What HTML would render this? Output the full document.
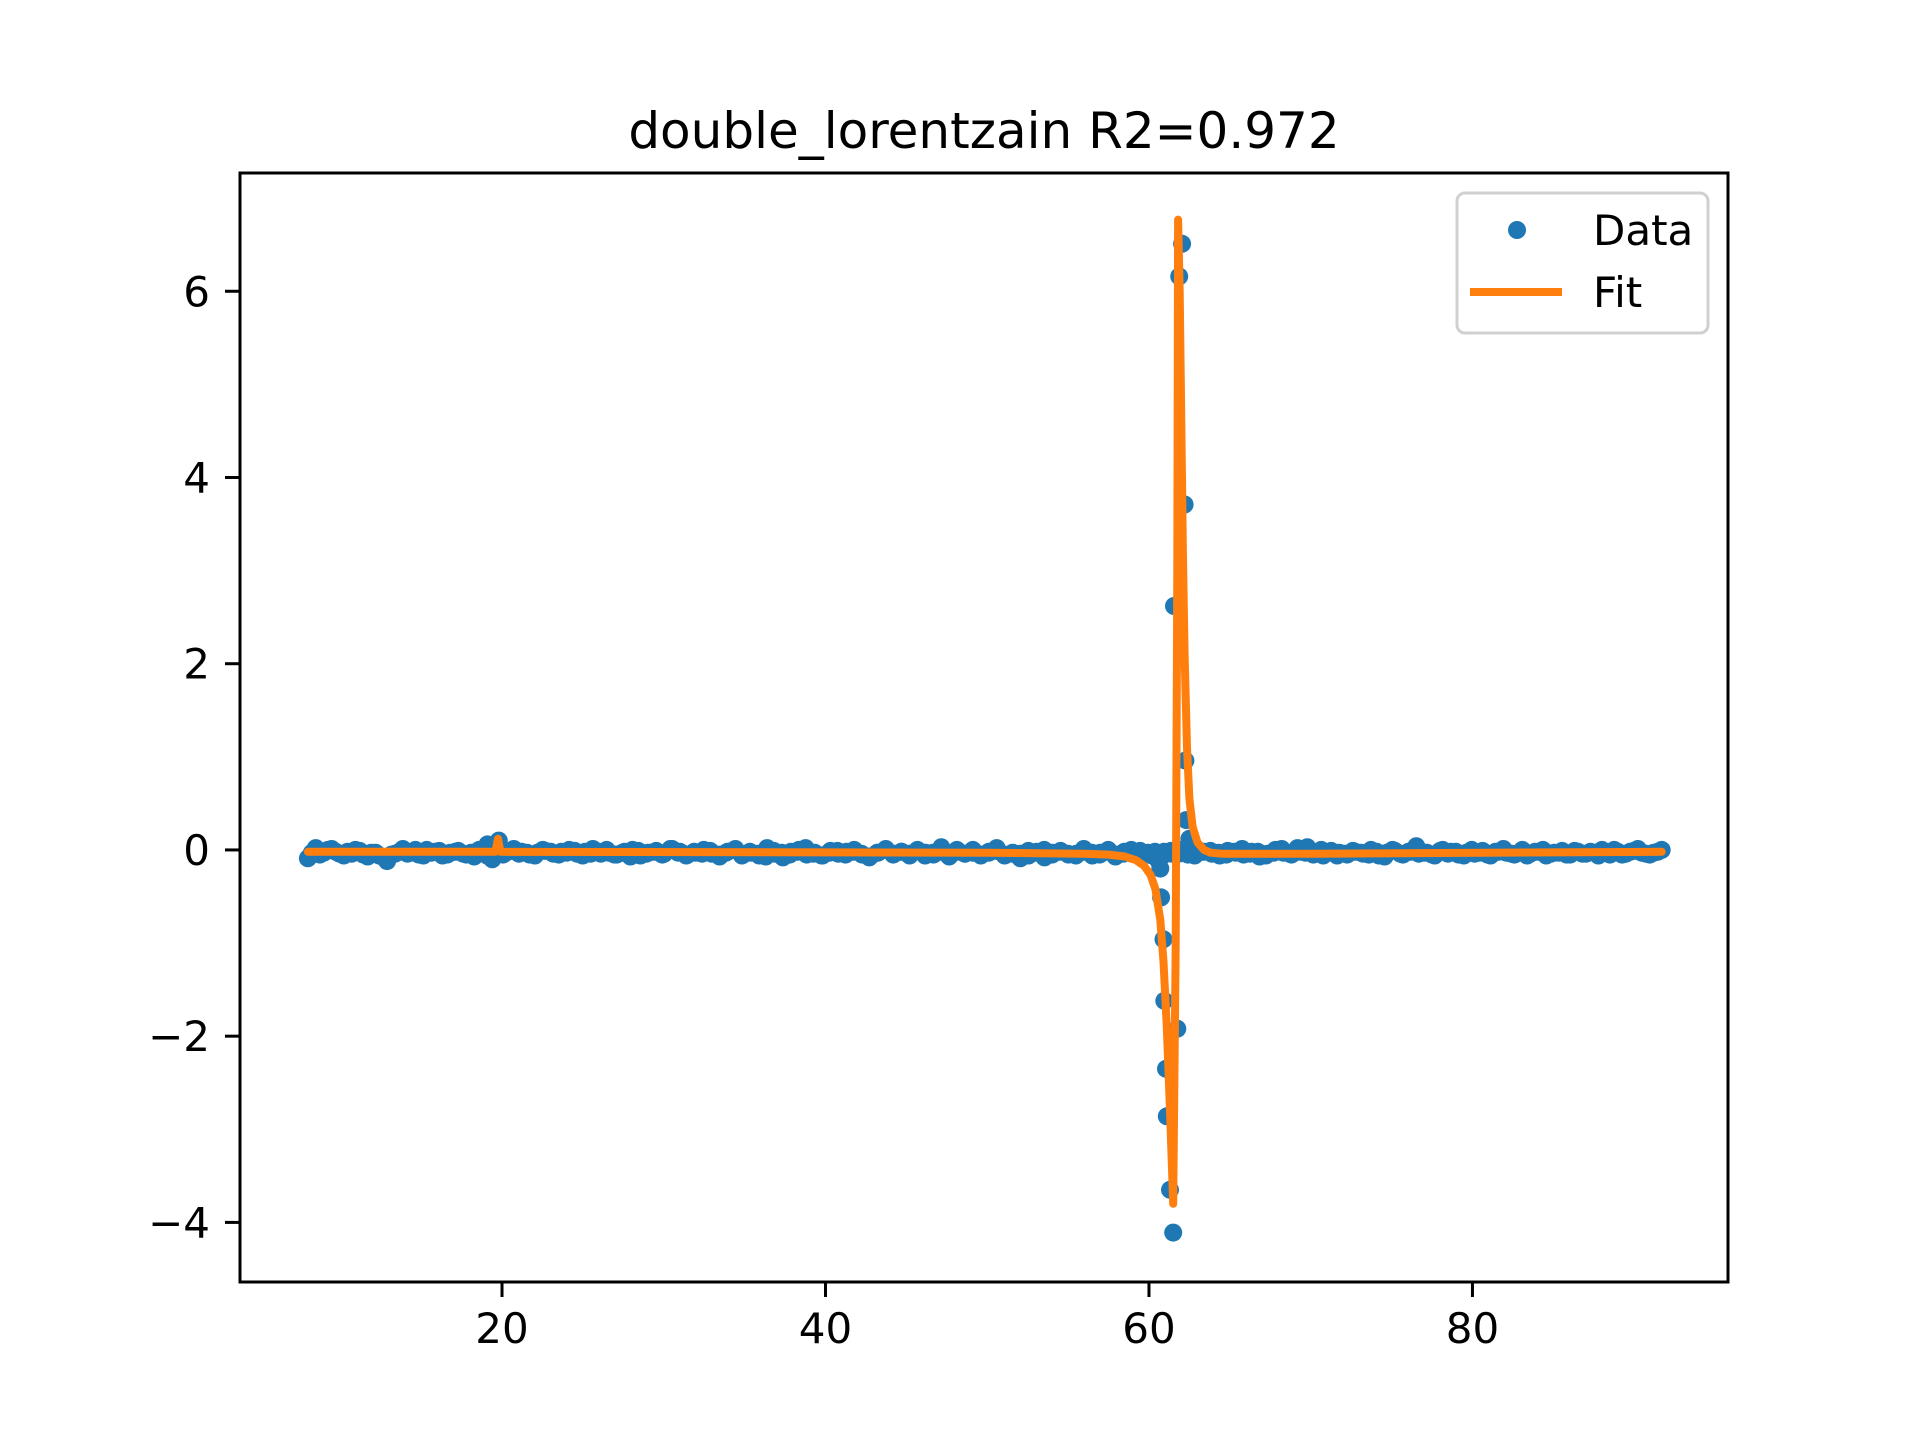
<!DOCTYPE html>
<html><head><meta charset="utf-8"><style>
html,body{margin:0;padding:0;background:#fff;}
svg{display:block;font-family:"DejaVu Sans","Liberation Sans",sans-serif;}
</style></head><body>
<svg id="chart" width="1920" height="1440" viewBox="0 0 1920 1440" xmlns="http://www.w3.org/2000/svg">
<rect width="1920" height="1440" fill="#fff"/>
<text x="984" y="148" font-size="50" text-anchor="middle" fill="#000">double_lorentzain R2=0.972</text>
<g id="plot"></g>
<g id="axes"></g>
<g>
<rect x="1457" y="193" width="251" height="140" rx="8" fill="#fff" fill-opacity="0.8" stroke="#d0d0d0" stroke-width="3"/>
<circle cx="1517" cy="230" r="9" fill="#1f77b4"/>
<text x="1593" y="245" font-size="42" fill="#000">Data</text>
<line x1="1470" y1="292" x2="1562" y2="292" stroke="#ff7f0e" stroke-width="8"/>
<text x="1593" y="307" font-size="42" fill="#000">Fit</text>
</g>
</svg>
<script>
const noiseStart = 8.0;
const noiseEnd = 91.7;
const noiseValues = [-0.09,0.02,-0.03,0.01,-0.04,-0.02,0.0,-0.05,-0.03,-0.06,-0.12,-0.04,0.01,-0.03,-0.05,0.0,-0.02,-0.06,-0.03,-0.01,-0.05,-0.07,-0.02,0.0,-0.04,-0.03,0.01,-0.02,-0.05,-0.03,-0.01,-0.04,-0.02,0.0,-0.04,-0.02,0.01,-0.04,-0.03,-0.05,-0.02,0.0,-0.06,-0.03,-0.01,-0.04,0.01,-0.02,-0.05,-0.03,0.0,-0.04,-0.07,-0.02,0.01,-0.05,-0.03,-0.06,0.02,-0.04,-0.08,-0.02,0.0,-0.05,-0.03,-0.06,-0.01,-0.04,-0.02,0.0,-0.05,-0.07,-0.03,0.01,-0.04,-0.02,-0.06,0.0,-0.03,-0.05,0.03,-0.07,-0.02,-0.04,0.0,-0.05,-0.03,0.02,-0.06,-0.04,-0.09,-0.01,-0.03,0.0,-0.05,-0.02,-0.04,-0.06,0.01,-0.03,-0.05,-0.02,-0.07,-0.04,0.0,-0.03,-0.05,-0.02,-0.06,-0.01,-0.04,-0.03,-0.06,-0.02,-0.01,-0.03,-0.05,-0.02,0.01,-0.04,-0.02,-0.06,-0.03,0.01,-0.04,0.02,-0.03,-0.05,0.0,-0.02,-0.06,-0.04,-0.01,-0.03,-0.05,-0.02,-0.07,0.0,-0.04,-0.02,0.04,-0.03,-0.05,-0.01,-0.04,-0.02,-0.06,0.0,-0.03,-0.05,-0.02,0.01,-0.04,-0.03,-0.06,-0.02,0.0,-0.04,-0.03,-0.05,-0.01,-0.04,-0.02,-0.06,-0.03,0.0,-0.05,-0.02,0.01,-0.04,-0.03,0.0];
const noiseValues2 = [-0.03,-0.05,0.0,-0.02,-0.06,-0.04,-0.01,-0.07,-0.03,-0.08,-0.05,-0.02,-0.04,0.0,-0.06,-0.03,-0.01,-0.05,-0.02,-0.04,-0.03,0.0,-0.06,-0.02,-0.05,-0.01,-0.04,-0.03,-0.06,0.0,-0.02,-0.05,-0.03,-0.01,-0.06,-0.04,-0.02,0.0,-0.05,-0.03,-0.07,-0.01,-0.04,-0.02,-0.05,0.01,-0.03,-0.06,-0.02,-0.04,-0.01,-0.05,-0.03,0.0,-0.06,-0.02,-0.04,-0.07,-0.01,-0.03,-0.05,-0.02,0.02,-0.04,-0.06,-0.03,-0.01,-0.05,-0.02,-0.04,-0.08,-0.03,0.0,-0.05,-0.02,-0.04,-0.01,-0.06,-0.03,-0.02,-0.05,0.0,-0.04,-0.03,-0.06,-0.02,-0.01,-0.05,-0.03,-0.04,-0.06,-0.02,-0.08,-0.03,-0.01,-0.05,-0.04,-0.02,-0.06,-0.03,0.0,-0.05,-0.02,-0.04,-0.01,-0.03,-0.06,-0.02,-0.04,0.0,-0.05,-0.03,-0.02,-0.04,-0.06,-0.01,-0.03,-0.05,-0.02,-0.07,-0.04,0.0,-0.03,-0.05,-0.02,0.03,-0.04,-0.06,-0.01,-0.03,-0.05,-0.02,-0.04,0.0,-0.06,-0.03,-0.01,-0.05,-0.02,-0.04,-0.03,-0.06,0.0,-0.02,-0.05,-0.03,-0.04,-0.01,-0.06,-0.02,-0.03,-0.05,0.0,-0.04,-0.02,-0.06,-0.03,-0.01,-0.05,-0.02,-0.04,-0.03,0.0,-0.05,-0.02,-0.04,-0.01,-0.03,-0.05,-0.02];
const peakX = [19.1,19.4,19.6,19.8,60.2,60.4,60.5,60.6,60.7,60.75,60.9,60.95,61.05,61.1,61.3,61.5,61.55,61.75,61.87,62.05,62.2,62.25,62.3,62.5,62.7];
const peakY = [0.06,-0.1,0.04,0.1,-0.06,-0.04,-0.08,-0.12,-0.2,-0.51,-0.96,-1.62,-2.35,-2.86,-3.65,-4.11,2.62,-1.92,6.16,6.51,3.71,0.96,0.32,0.12,0.02];
const fitX = [8.0,19.6,19.75,19.9,50,56,57.5,58.5,59.2,59.7,60.1,60.4,60.7,60.9,61.1,61.3,61.5,61.65,61.75,61.8,61.9,62.0,62.1,62.2,62.35,62.5,62.7,63.0,63.4,63.8,64.5,70,91.7];
const fitY = [-0.02,-0.02,0.12,-0.02,-0.03,-0.04,-0.05,-0.07,-0.11,-0.17,-0.27,-0.42,-0.75,-1.2,-1.9,-2.8,-3.8,-1.0,3.0,6.77,6.0,4.6,3.2,2.1,1.1,0.55,0.25,0.08,0.0,-0.03,-0.04,-0.04,-0.02];
const xTicks = [20,40,60,80];
const yTicks = [-4,-2,0,2,4,6];
const yTickLabels = ["\u22124","\u22122","0","2","4","6"];

const L=240,R=1728,T=173,B=1282;
const xMin=3.8,xMax=95.8,yMin=-4.64,yMax=7.27;
const sx=v=>L+(v-xMin)/(xMax-xMin)*(R-L);
const sy=v=>B-(v-yMin)/(yMax-yMin)*(B-T);
const NS="http://www.w3.org/2000/svg";
const plot=document.getElementById('plot');
const axes=document.getElementById('axes');
function mk(tag,attrs,parent){const e=document.createElementNS(NS,tag);for(const k in attrs)e.setAttribute(k,attrs[k]);parent.appendChild(e);return e;}

const pts=[];
const st1=(noiseEnd-noiseStart)/(noiseValues.length-1);
noiseValues.forEach((v,i)=>pts.push([noiseStart+i*st1,v]));
const st2=(noiseEnd-noiseStart)/(noiseValues2.length);
noiseValues2.forEach((v,i)=>pts.push([noiseStart+(i+0.5)*st2,v]));
peakX.forEach((x,i)=>pts.push([x,peakY[i]]));
pts.forEach(p=>{
  const c=mk('circle',{cx:sx(p[0]).toFixed(1),cy:sy(p[1]).toFixed(1),r:9,fill:'#1f77b4'},plot);
  
  
});
const d=fitX.map((x,i)=>(i?'L':'M')+sx(x).toFixed(1)+' '+sy(fitY[i]).toFixed(1)).join(' ');
const fl=mk('path',{d:d,fill:'none',stroke:'#ff7f0e','stroke-width':8,'stroke-linejoin':'round','stroke-linecap':'round'},plot);



const frame=mk('rect',{x:L,y:T,width:R-L,height:B-T,fill:'none',stroke:'#000','stroke-width':3},axes);


xTicks.forEach(t=>{
  const x=sx(t);
  const tk=mk('line',{x1:x,y1:B,x2:x,y2:B+15,stroke:'#000','stroke-width':3},axes);
  
  
  const tx=mk('text',{x:x,y:1343,'font-size':42,'text-anchor':'middle',fill:'#000'},axes);
  tx.textContent=String(t);
  
  
});
yTicks.forEach((t,i)=>{
  const y=sy(t);
  const tk=mk('line',{x1:L-15,y1:y,x2:L,y2:y,stroke:'#000','stroke-width':3},axes);
  
  
  const tx=mk('text',{x:210,y:y+15,'font-size':42,'text-anchor':'end',fill:'#000'},axes);
  tx.textContent=yTickLabels[i];
  
  
});
</script>
</body></html>
